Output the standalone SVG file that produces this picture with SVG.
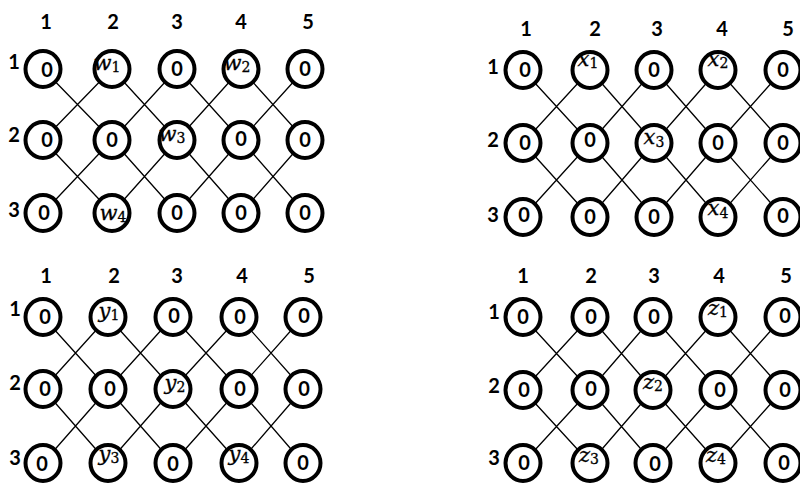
<svg xmlns="http://www.w3.org/2000/svg" width="800" height="483" viewBox="0 0 800 483">
<style>
.bg{fill:#fff}
.e{fill:none;stroke:#000;stroke-width:1.3}
.n ellipse{fill:#fff;stroke:#000;stroke-width:4}
.d{font-family:Lato,"Liberation Sans",sans-serif;font-weight:bold;font-size:20px;text-anchor:middle;fill:#000}
.h{font-family:Lato,"Liberation Sans",sans-serif;font-weight:bold;font-size:20px;text-anchor:middle;fill:#000}
.m{font-family:"DejaVu Serif",serif;font-style:italic;font-size:21px;text-anchor:middle;fill:#000;stroke:#000;stroke-width:0.3}
.s{font-style:normal;font-size:14px}
</style>
<rect class="bg" x="0" y="0" width="800" height="483"/>
<g id="connectors">
<path class="e" d="M43,69L112,140M112,69L43,140M112,69L177,140M177,69L112,140M177,69L241,140M241,69L177,140M241,69L305,140M305,69L241,140M43,140L112,213M112,140L43,213M112,140L177,213M177,140L112,213M177,140L241,213M241,140L177,213M241,140L305,213M305,140L241,213"/>
<path class="e" d="M523,70L590,143M590,70L523,143M590,70L654,143M654,70L590,143M654,70L718,143M718,70L654,143M718,70L783,143M783,70L718,143M523,143L590,217M590,143L523,217M590,143L654,217M654,143L590,217M654,143L718,217M718,143L654,217M718,143L783,217M783,143L718,217"/>
<path class="e" d="M43,317L108,389M108,317L43,389M108,317L173,389M173,317L108,389M173,317L239,389M239,317L173,389M239,317L303,389M303,317L239,389M43,389L108,463M108,389L43,463M108,389L173,463M173,389L108,463M173,389L239,463M239,389L173,463M239,389L303,463M303,389L239,463"/>
<path class="e" d="M523,317L590,390M590,317L523,390M590,317L653,390M653,317L590,390M653,317L718,390M718,317L653,390M718,317L783,390M783,317L718,390M523,390L590,463M590,390L523,463M590,390L653,463M653,390L590,463M653,390L718,463M718,390L653,463M718,390L783,463M783,390L718,463"/>
</g>
<g id="labels">
<text class="h" x="46" y="29">1</text><text class="h" x="113" y="29">2</text><text class="h" x="177" y="29">3</text><text class="h" x="241" y="29">4</text><text class="h" x="308" y="29">5</text>
<text class="h" x="14" y="69">1</text><text class="h" x="14" y="142">2</text><text class="h" x="14" y="217">3</text>
<text class="h" x="526" y="36">1</text><text class="h" x="595" y="36">2</text><text class="h" x="657" y="36">3</text><text class="h" x="722" y="36">4</text><text class="h" x="788" y="36">5</text>
<text class="h" x="493" y="74">1</text><text class="h" x="493" y="147">2</text><text class="h" x="493" y="222">3</text>
<text class="h" x="46" y="283">1</text><text class="h" x="114" y="283">2</text><text class="h" x="177" y="283">3</text><text class="h" x="242" y="283">4</text><text class="h" x="309" y="283">5</text>
<text class="h" x="15" y="316">1</text><text class="h" x="15" y="390">2</text><text class="h" x="15" y="465">3</text>
<text class="h" x="523" y="283">1</text><text class="h" x="591" y="283">2</text><text class="h" x="654" y="283">3</text><text class="h" x="719" y="283">4</text><text class="h" x="786" y="283">5</text>
<text class="h" x="494" y="319">1</text><text class="h" x="494" y="393">2</text><text class="h" x="494" y="465">3</text>
</g>
<!-- Panel A -->
<g id="a11" class="n"><ellipse cx="43" cy="69" rx="17.5" ry="18"/><text class="d" x="47" y="77">0</text></g>
<g id="a12" class="n"><ellipse cx="112" cy="69" rx="17.5" ry="18"/><text class="m" x="107" y="70">w<tspan class="s" dy="2">1</tspan></text></g>
<g id="a13" class="n"><ellipse cx="177" cy="69" rx="17.5" ry="18"/><text class="d" x="177" y="76">0</text></g>
<g id="a14" class="n"><ellipse cx="241" cy="69" rx="17.5" ry="18"/><text class="m" x="237" y="70">w<tspan class="s" dy="2">2</tspan></text></g>
<g id="a15" class="n"><ellipse cx="305" cy="69" rx="17.5" ry="18"/><text class="d" x="305" y="76">0</text></g>
<g id="a21" class="n"><ellipse cx="43" cy="140" rx="17.5" ry="18"/><text class="d" x="47" y="147">0</text></g>
<g id="a22" class="n"><ellipse cx="112" cy="140" rx="17.5" ry="18"/><text class="d" x="112" y="147">0</text></g>
<g id="a23" class="n"><ellipse cx="177" cy="140" rx="17.5" ry="18"/><text class="m" x="172" y="141">w<tspan class="s" dy="2">3</tspan></text></g>
<g id="a24" class="n"><ellipse cx="241" cy="140" rx="17.5" ry="18"/><text class="d" x="241" y="146">0</text></g>
<g id="a25" class="n"><ellipse cx="305" cy="140" rx="17.5" ry="18"/><text class="d" x="305" y="147">0</text></g>
<g id="a31" class="n"><ellipse cx="43" cy="213" rx="17.5" ry="18"/><text class="d" x="44" y="220">0</text></g>
<g id="a32" class="n"><ellipse cx="112" cy="213" rx="17.5" ry="18"/><text class="m" x="113" y="220">w<tspan class="s" dy="2">4</tspan></text></g>
<g id="a33" class="n"><ellipse cx="177" cy="213" rx="17.5" ry="18"/><text class="d" x="177" y="220">0</text></g>
<g id="a34" class="n"><ellipse cx="241" cy="213" rx="17.5" ry="18"/><text class="d" x="241" y="220">0</text></g>
<g id="a35" class="n"><ellipse cx="305" cy="213" rx="17.5" ry="18"/><text class="d" x="305" y="220">0</text></g>
<!-- Panel B -->
<g id="b11" class="n"><ellipse cx="523" cy="70" rx="17.5" ry="18"/><text class="d" x="525" y="77">0</text></g>
<g id="b12" class="n"><ellipse cx="590" cy="70" rx="17.5" ry="18"/><text class="m" x="588" y="66">x<tspan class="s" dy="2">1</tspan></text></g>
<g id="b13" class="n"><ellipse cx="654" cy="70" rx="17.5" ry="18"/><text class="d" x="654" y="77">0</text></g>
<g id="b14" class="n"><ellipse cx="718" cy="70" rx="17.5" ry="18"/><text class="m" x="718" y="66">x<tspan class="s" dy="2">2</tspan></text></g>
<g id="b15" class="n"><ellipse cx="783" cy="70" rx="17.5" ry="18"/><text class="d" x="783" y="77">0</text></g>
<g id="b21" class="n"><ellipse cx="523" cy="143" rx="17.5" ry="18"/><text class="d" x="525" y="150">0</text></g>
<g id="b22" class="n"><ellipse cx="590" cy="143" rx="17.5" ry="18"/><text class="d" x="590" y="147">0</text></g>
<g id="b23" class="n"><ellipse cx="654" cy="143" rx="17.5" ry="18"/><text class="m" x="654" y="144">x<tspan class="s" dy="3">3</tspan></text></g>
<g id="b24" class="n"><ellipse cx="718" cy="143" rx="17.5" ry="18"/><text class="d" x="718" y="150">0</text></g>
<g id="b25" class="n"><ellipse cx="783" cy="143" rx="17.5" ry="18"/><text class="d" x="783" y="150">0</text></g>
<g id="b31" class="n"><ellipse cx="523" cy="217" rx="17.5" ry="18"/><text class="d" x="524" y="222">0</text></g>
<g id="b32" class="n"><ellipse cx="590" cy="217" rx="17.5" ry="18"/><text class="d" x="590" y="224">0</text></g>
<g id="b33" class="n"><ellipse cx="654" cy="217" rx="17.5" ry="18"/><text class="d" x="654" y="224">0</text></g>
<g id="b34" class="n"><ellipse cx="718" cy="217" rx="17.5" ry="18"/><text class="m" x="718" y="215">x<tspan class="s" dy="3">4</tspan></text></g>
<g id="b35" class="n"><ellipse cx="783" cy="217" rx="17.5" ry="18"/><text class="d" x="783" y="223">0</text></g>
<!-- Panel C -->
<g id="c11" class="n"><ellipse cx="43" cy="317" rx="17.5" ry="18"/><text class="d" x="45" y="324">0</text></g>
<g id="c12" class="n"><ellipse cx="108" cy="317" rx="17.5" ry="18"/><text class="m" x="109" y="318">y<tspan class="s" dy="2">1</tspan></text></g>
<g id="c13" class="n"><ellipse cx="173" cy="317" rx="17.5" ry="18"/><text class="d" x="174" y="323">0</text></g>
<g id="c14" class="n"><ellipse cx="239" cy="317" rx="17.5" ry="18"/><text class="d" x="240" y="324">0</text></g>
<g id="c15" class="n"><ellipse cx="303" cy="317" rx="17.5" ry="18"/><text class="d" x="304" y="323">0</text></g>
<g id="c21" class="n"><ellipse cx="43" cy="389" rx="17.5" ry="18"/><text class="d" x="45" y="396">0</text></g>
<g id="c22" class="n"><ellipse cx="108" cy="389" rx="17.5" ry="18"/><text class="d" x="110" y="396">0</text></g>
<g id="c23" class="n"><ellipse cx="173" cy="389" rx="17.5" ry="18"/><text class="m" x="175" y="390">y<tspan class="s" dy="2">2</tspan></text></g>
<g id="c24" class="n"><ellipse cx="239" cy="389" rx="17.5" ry="18"/><text class="d" x="240" y="396">0</text></g>
<g id="c25" class="n"><ellipse cx="303" cy="389" rx="17.5" ry="18"/><text class="d" x="304" y="396">0</text></g>
<g id="c31" class="n"><ellipse cx="43" cy="463" rx="17.5" ry="18"/><text class="d" x="42" y="471">0</text></g>
<g id="c32" class="n"><ellipse cx="108" cy="463" rx="17.5" ry="18"/><text class="m" x="109" y="461">y<tspan class="s" dy="2">3</tspan></text></g>
<g id="c33" class="n"><ellipse cx="173" cy="463" rx="17.5" ry="18"/><text class="d" x="173" y="471">0</text></g>
<g id="c34" class="n"><ellipse cx="239" cy="463" rx="17.5" ry="18"/><text class="m" x="239" y="461">y<tspan class="s" dy="2">4</tspan></text></g>
<g id="c35" class="n"><ellipse cx="303" cy="463" rx="17.5" ry="18"/><text class="d" x="303" y="470">0</text></g>
<!-- Panel D -->
<g id="d11" class="n"><ellipse cx="523" cy="317" rx="17.5" ry="18"/><text class="d" x="523" y="324">0</text></g>
<g id="d12" class="n"><ellipse cx="590" cy="317" rx="17.5" ry="18"/><text class="d" x="591" y="324">0</text></g>
<g id="d13" class="n"><ellipse cx="653" cy="317" rx="17.5" ry="18"/><text class="d" x="654" y="324">0</text></g>
<g id="d14" class="n"><ellipse cx="718" cy="317" rx="17.5" ry="18"/><text class="m" x="718" y="315">z<tspan class="s" dy="2">1</tspan></text></g>
<g id="d15" class="n"><ellipse cx="783" cy="317" rx="17.5" ry="18"/><text class="d" x="785" y="323">0</text></g>
<g id="d21" class="n"><ellipse cx="523" cy="390" rx="17.5" ry="18"/><text class="d" x="524" y="397">0</text></g>
<g id="d22" class="n"><ellipse cx="590" cy="390" rx="17.5" ry="18"/><text class="d" x="591" y="396">0</text></g>
<g id="d23" class="n"><ellipse cx="653" cy="390" rx="17.5" ry="18"/><text class="m" x="653" y="389">z<tspan class="s" dy="2">2</tspan></text></g>
<g id="d24" class="n"><ellipse cx="718" cy="390" rx="17.5" ry="18"/><text class="d" x="720" y="397">0</text></g>
<g id="d25" class="n"><ellipse cx="783" cy="390" rx="17.5" ry="18"/><text class="d" x="785" y="397">0</text></g>
<g id="d31" class="n"><ellipse cx="523" cy="463" rx="17.5" ry="18"/><text class="d" x="524" y="470">0</text></g>
<g id="d32" class="n"><ellipse cx="590" cy="463" rx="17.5" ry="18"/><text class="m" x="589" y="462">z<tspan class="s" dy="2">3</tspan></text></g>
<g id="d33" class="n"><ellipse cx="653" cy="463" rx="17.5" ry="18"/><text class="d" x="655" y="471">0</text></g>
<g id="d34" class="n"><ellipse cx="718" cy="463" rx="17.5" ry="18"/><text class="m" x="716" y="462">z<tspan class="s" dy="2">4</tspan></text></g>
<g id="d35" class="n"><ellipse cx="783" cy="463" rx="17.5" ry="18"/><text class="d" x="784" y="470">0</text></g>
</svg>
